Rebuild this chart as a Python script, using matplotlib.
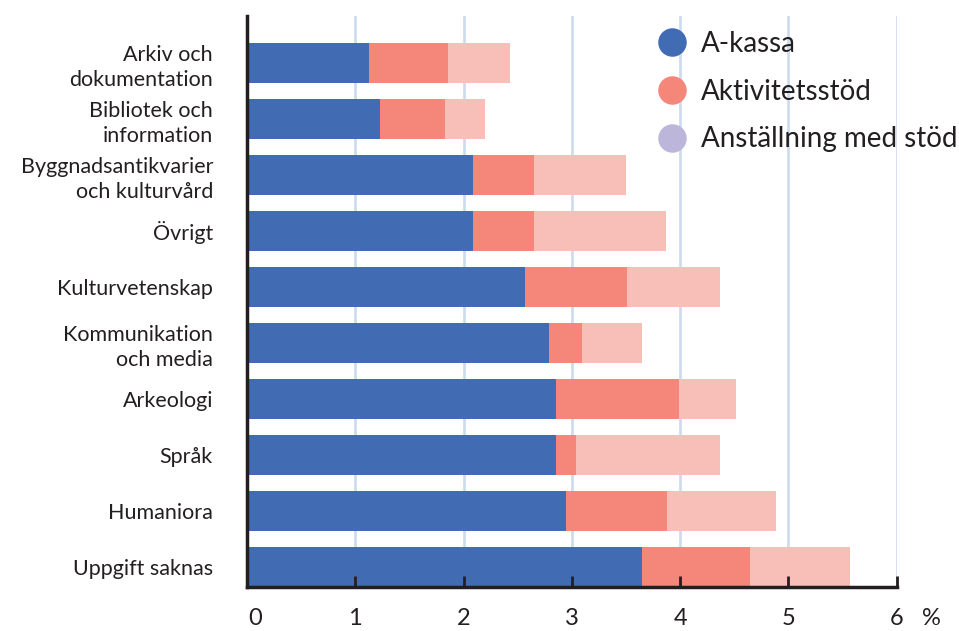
import numpy as np
import matplotlib
matplotlib.use('Agg')
import matplotlib.pyplot as plt
import matplotlib.transforms as mtransforms
from matplotlib.lines import Line2D

plt.rcParams['font.family'] = ['Lato', 'DejaVu Sans']

# Data (percent)
categories = ['Arkiv och\ndokumentation', 'Bibliotek och\ninformation',
              'Byggnadsantikvarier\noch kulturvård', 'Övrigt', 'Kulturvetenskap',
              'Kommunikation\noch media', 'Arkeologi', 'Språk', 'Humaniora',
              'Uppgift saknas']
a_kassa = [1.13, 1.23, 2.09, 2.09, 2.57, 2.79, 2.85, 2.85, 2.95, 3.65]
aktivitetsstod = [0.73, 0.60, 0.56, 0.56, 0.94, 0.30, 1.14, 0.19, 0.93, 1.00]
anstallning = [0.57, 0.37, 0.85, 1.22, 0.86, 0.56, 0.53, 1.33, 1.01, 0.92]
series_names = ['A-kassa', 'Aktivitetsstöd', 'Anställning med stöd']
xticks = [0, 1, 2, 3, 4, 5, 6]

blue = '#416bb3'
red = '#f4867a'
pink = '#f8beb8'
lavender = '#bcb6da'
dark = '#231f20'
grid_col = '#cfdcf0'

fig = plt.figure(figsize=(9.59, 6.31), dpi=100)
ax = fig.add_axes([0.2576, 0.0697, 0.6774, 0.9049])

y = np.arange(len(categories))
a = np.array(a_kassa)
b = np.array(aktivitetsstod)
c = np.array(anstallning)
h = 0.72
ax.barh(y, a, height=h, color=blue, zorder=2)
ax.barh(y, b, left=a, height=h, color=red, zorder=2)
ax.barh(y, c, left=a + b, height=h, color=pink, zorder=2)
ax.set_axisbelow(False)

ax.set_xlim(0, 6)
ax.set_ylim(9.36, -0.84)
ax.set_yticks(y)
ax.set_yticklabels(categories, fontsize=15.5, color=dark, linespacing=1.3)
ax.tick_params(axis='y', length=0, pad=24.5)

ax.set_xticks(xticks)
ax.set_xticklabels([str(t) for t in xticks], fontsize=17, color=dark)
ax.tick_params(axis='x', direction='in', length=8, width=2, color=dark, pad=15)
# nudge the "0" label right a bit
first = ax.get_xticklabels()[0]
first.set_transform(first.get_transform() +
                    mtransforms.ScaledTranslation(8 / 100, 0, fig.dpi_scale_trans))

for t in xticks[1:]:
    ax.axvline(t, color=grid_col, linewidth=2, zorder=1)

for s in ['top', 'right']:
    ax.spines[s].set_visible(False)
for s in ['left', 'bottom']:
    ax.spines[s].set_color(dark)
    ax.spines[s].set_linewidth(2.5)

# percent sign next to the last tick label
ax.annotate('%', xy=(1.0, 0), xycoords='axes fraction', xytext=(25, -15),
            textcoords='offset points', fontsize=17, color=dark,
            ha='center', va='top')

handles = [Line2D([], [], marker='o', linestyle='', markersize=19.5,
                  markerfacecolor=col, markeredgecolor=col)
           for col in [blue, red, lavender]]
leg = fig.legend(handles, series_names, loc='upper left',
                 bbox_to_anchor=(0.686, 0.951), frameon=False, fontsize=20,
                 handlelength=1.0, handletextpad=0.55, labelspacing=0.78,
                 borderpad=0, borderaxespad=0)
for t in leg.get_texts():
    t.set_color(dark)

fig.savefig('out.png', dpi=100)
